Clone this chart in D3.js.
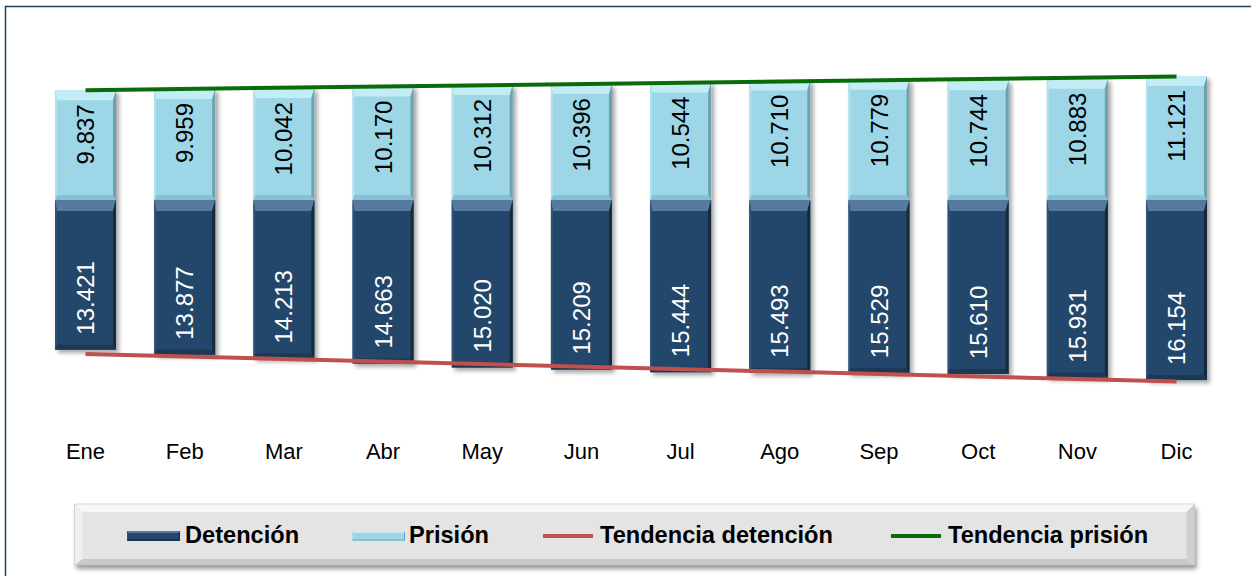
<!DOCTYPE html>
<html>
<head>
<meta charset="utf-8">
<script src="https://cdn.jsdelivr.net/npm/d3@7"></script>
<style>
  html, body { margin: 0; padding: 0; background: #fff; }
  svg { display: block; font-family: "Liberation Sans", Arial, sans-serif; }
</style>
</head>
<body>
<svg id="chart" width="1251" height="576"></svg>
<script>
// --- data ---
const months = ["Ene", "Feb", "Mar", "Abr", "May", "Jun", "Jul", "Ago", "Sep", "Oct", "Nov", "Dic"];
const detencion = [13421, 13877, 14213, 14663, 15020, 15209, 15444, 15493, 15529, 15610, 15931, 16154];
const prision = [9837, 9959, 10042, 10170, 10312, 10396, 10544, 10710, 10779, 10744, 10883, 11121];
// trend lines: value at first and last month
const trendDetencion = [13810, 16284];
const trendPrision = [9848, 11069];
const legendLabels = ["Detención", "Prisión", "Tendencia detención", "Tendencia prisión"];

const svg = d3.select("#chart");
const fmt = v => d3.format(",")(v).replace(/,/g, ".");

// colours
const cDet = { main: "#24466a", top: "#56799f", bottom: "#1b3752", left: "#2f5378", right: "#14293d" };
const cPri = { main: "#9dd7e7", top: "#c3ecf5", bottom: "#86c1d1", left: "#b0e2ee", right: "#6f9fae" };
const cRed = "#c0504d";
const cGreen = "#0a6b0a";

const defs = svg.append("defs");
defs.append("filter").attr("id", "shadow").attr("x", "-20%").attr("y", "-20%").attr("width", "150%").attr("height", "150%")
  .append("feDropShadow").attr("dx", 3).attr("dy", 3).attr("stdDeviation", 2)
  .attr("flood-color", "#000").attr("flood-opacity", 0.35);
defs.append("filter").attr("id", "shadowL").attr("x", "-5%").attr("y", "-20%").attr("width", "110%").attr("height", "160%")
  .append("feDropShadow").attr("dx", 2).attr("dy", 4).attr("stdDeviation", 2)
  .attr("flood-color", "#000").attr("flood-opacity", 0.4);

// frame
svg.append("path").attr("d", "M5.5,576V6.5H1251").attr("fill", "none")
  .attr("stroke", "#1f3f5f").attr("stroke-width", 1.5);

// scales
const x = d3.scaleBand().domain(months).range([35.9, 1226.1]).paddingInner(0.385).paddingOuter(0.1925);
const k = 0.01115;
const y = d3.scaleLinear().domain([-20000, 12000]).range([200 + 20000 * k, 200 - 12000 * k]);

// bevelled box: x0,y0,w,h, bevel sizes [top,right,bottom,left]
function bevelBox(g, x0, y0, w, h, c, b) {
  const [bt, br, bb, bl] = b;
  const x1 = x0 + w, y1 = y0 + h;
  const poly = pts => g.append("polygon").attr("points", pts.map(p => p.join(",")).join(" "));
  g.append("rect").attr("x", x0).attr("y", y0).attr("width", w).attr("height", h).attr("fill", c.main);
  poly([[x0, y0], [x1, y0], [x1 - br, y0 + bt], [x0 + bl, y0 + bt]]).attr("fill", c.top);
  poly([[x0, y1], [x1, y1], [x1 - br, y1 - bb], [x0 + bl, y1 - bb]]).attr("fill", c.bottom);
  poly([[x0, y0], [x0 + bl, y0 + bt], [x0 + bl, y1 - bb], [x0, y1]]).attr("fill", c.left);
  poly([[x1, y0], [x1 - br, y0 + bt], [x1 - br, y1 - bb], [x1, y1]]).attr("fill", c.right);
}

// bars
const bars = svg.append("g");
months.forEach((m, i) => {
  const g = bars.append("g").attr("filter", "url(#shadow)");
  const bx = x(m), bw = x.bandwidth();
  bevelBox(g, bx, y(0), bw, y(-detencion[i]) - y(0), cDet, [11, 3, 5, 2]);
  bevelBox(g, bx, y(prision[i]), bw, y(0) - y(prision[i]), cPri, [10, 3, 5, 2]);
});

// value labels
const labels = svg.append("g").attr("font-size", 24);
months.forEach((m, i) => {
  const cx = x(m) + x.bandwidth() / 2;
  const yb = y(-detencion[i]) - 15;
  labels.append("text")
    .attr("transform", `translate(${cx},${yb}) rotate(-90)`)
    .attr("dy", "0.36em").attr("text-anchor", "start").attr("fill", "#fff")
    .text(fmt(detencion[i]));
  const yt = y(prision[i]) + 14;
  labels.append("text")
    .attr("transform", `translate(${cx},${yt}) rotate(-90)`)
    .attr("dy", "0.36em").attr("text-anchor", "end").attr("fill", "#000")
    .text(fmt(prision[i]));
});

// trend lines
const xc = m => x(m) + x.bandwidth() / 2;
const first = months[0], last = months[months.length - 1];
svg.append("line")
  .attr("x1", xc(first)).attr("x2", xc(last))
  .attr("y1", y(-trendDetencion[0])).attr("y2", y(-trendDetencion[1]))
  .attr("stroke", cRed).attr("stroke-width", 4);
svg.append("line")
  .attr("x1", xc(first)).attr("x2", xc(last))
  .attr("y1", y(trendPrision[0])).attr("y2", y(trendPrision[1]))
  .attr("stroke", cGreen).attr("stroke-width", 4);

// month axis
svg.append("g").attr("transform", "translate(0,423)")
  .call(d3.axisBottom(x).tickSize(0).tickPadding(0))
  .call(g => g.select(".domain").remove())
  .selectAll("text").attr("font-size", 22).attr("fill", "#000")
  .attr("font-family", "'Liberation Sans', Arial, sans-serif")
  .attr("dy", "35.5px");

// legend
const lg = svg.append("g");
const lbox = lg.append("g").attr("filter", "url(#shadowL)");
bevelBox(lbox, 74.5, 504, 1120, 61,
  { main: "#e4e4e4", top: "#f7f7f7", bottom: "#c9c9c9", left: "#efefef", right: "#cfcfcf" }, [8, 8, 6, 8]);
lg.append("rect").attr("x", 74.5).attr("y", 504).attr("width", 1120).attr("height", 61)
  .attr("fill", "none").attr("stroke", "#c4c4c4").attr("stroke-width", 0.6);

const legY = 543;
const sw = [[127, cDet], [352, cPri]];
sw.forEach(([sx, c]) => {
  const g = lg.append("g");
  bevelBox(g, sx, 531, 53, 10, c, [2, 1, 2, 1]);
});
lg.append("line").attr("x1", 543).attr("x2", 593).attr("y1", 536).attr("y2", 536)
  .attr("stroke", cRed).attr("stroke-width", 4);
lg.append("line").attr("x1", 891).attr("x2", 941).attr("y1", 536).attr("y2", 536)
  .attr("stroke", cGreen).attr("stroke-width", 4);

const legX = [185, 409, 600, 948];
legendLabels.forEach((t, i) => {
  lg.append("text").attr("x", legX[i]).attr("y", legY)
    .attr("font-size", 23.6).attr("font-weight", "bold").attr("fill", "#000")
    .text(t);
});
</script>
</body>
</html>
